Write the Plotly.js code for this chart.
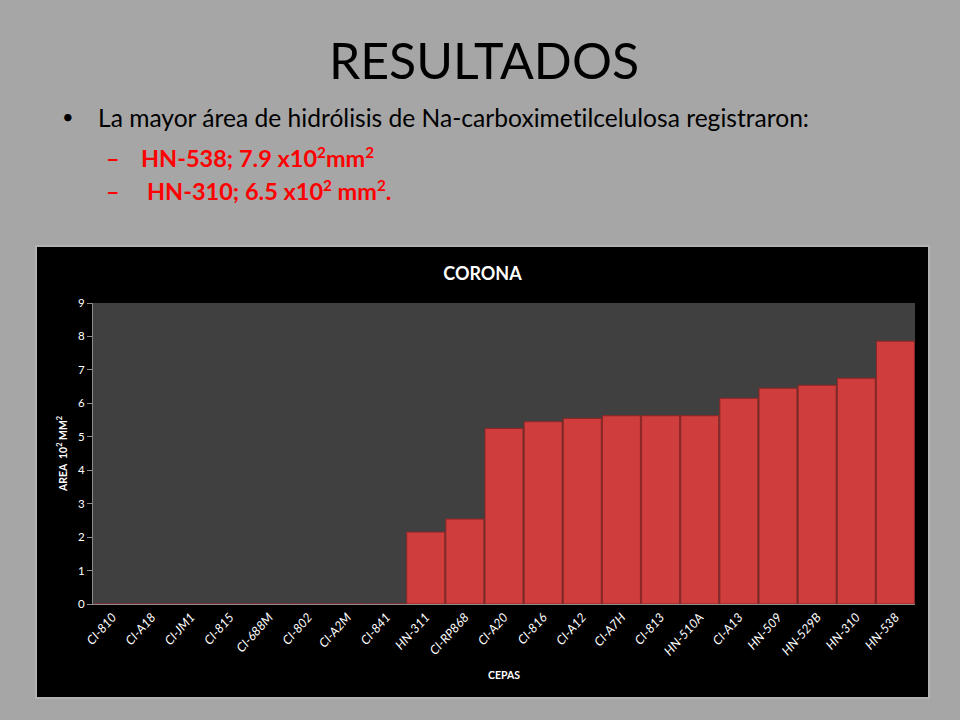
<!DOCTYPE html>
<html>
<head>
<meta charset="utf-8">
<script src="https://cdn.plot.ly/plotly-3.0.1.min.js"></script>
<style>
  html, body { margin: 0; padding: 0; }
  body { width: 960px; height: 720px; background: #a6a6a6; position: relative; overflow: hidden;
         font-family: Lato, "Open Sans", sans-serif; font-variant-ligatures: none; }
  .t { position: absolute; white-space: nowrap; }
  #title { left: 0; width: 968px; text-align: center; top: 30px; font-size: 50px; color: #000; }
  #b1 { left: 98px; top: 103px; font-size: 24.6px; color: #000; }
  #dot { left: 62px; top: 104px; font-size: 20px; }
  .red { color: #ff0000; font-weight: bold; font-size: 23.5px; }
  #d1 { left: 106px; top: 144px; }
  #l1 { left: 141px; top: 144px; }
  #d2 { left: 106px; top: 177px; }
  #l2 { left: 147px; top: 177px; }
  sup { font-size: 0.65em; line-height: 0; }
  #panel { position: absolute; left: 35px; top: 245px; width: 895px; height: 454px; background: #b2b2b2; }
  #chart { position: absolute; left: 37px; top: 247px; width: 891px; height: 450px; }
</style>
</head>
<body>
<div class="t" id="title">RESULTADOS</div>
<div class="t" id="dot">•</div>
<div class="t" id="b1">La mayor área de hidrólisis de Na-carboximetilcelulosa registraron:</div>
<div class="t red" id="d1">–</div>
<div class="t red" id="l1">HN-538; 7.9 x10<sup>2</sup>mm<sup>2</sup></div>
<div class="t red" id="d2">–</div>
<div class="t red" id="l2">HN-310; 6.5 x10<sup>2</sup> mm<sup>2</sup>.</div>
<div id="panel"></div>
<div id="chart"></div>
<script>
// cepas y área de hidrólisis (x10^2 mm^2)
let cepas = ['CI-810', 'CI-A18', 'CI-JM1', 'CI-815', 'CI-688M', 'CI-802', 'CI-A2M', 'CI-841',
             'HN-311', 'CI-RP868', 'CI-A20', 'CI-816', 'CI-A12', 'CI-A7H', 'CI-813', 'HN-510A',
             'CI-A13', 'HN-509', 'HN-529B', 'HN-310', 'HN-538'];
let area = [0, 0, 0, 0, 0, 0, 0, 0,
            2.15, 2.54, 5.25, 5.45, 5.55, 5.63, 5.63, 5.63,
            6.15, 6.45, 6.54, 6.75, 7.86];

let trace = {
    type: 'bar',
    x: cepas,
    y: area,
    marker: {
        color: '#cf3d3d',
        line: { color: '#8e2626', width: 1 }
    },
    hoverinfo: 'x+y'
};

let layout = {
    width: 891,
    height: 450,
    paper_bgcolor: '#000000',
    plot_bgcolor: '#404040',
    bargap: 0.03,
    showlegend: false,
    margin: { l: 56, r: 13, t: 56, b: 93 },
    title: {
        text: '<b>CORONA</b>',
        x: 0.5,
        y: 0.94,
        yanchor: 'middle',
        font: { family: 'Lato, sans-serif', size: 18, color: '#ffffff' }
    },
    xaxis: {
        type: 'category',
        tickangle: -48,
        tickfont: { family: 'Lato, sans-serif', size: 12.5, color: '#ffffff', style: 'italic' },
        showline: true,
        linecolor: '#8c8c8c',
        linewidth: 1,
        ticks: '',
        showgrid: false,
        title: {
            text: '<b>CEPAS</b>',
            font: { family: 'Lato, sans-serif', size: 10.5, color: '#ffffff' },
            standoff: 14
        }
    },
    yaxis: {
        range: [0, 9],
        dtick: 1,
        ticks: 'outside',
        ticklen: 5,
        tickcolor: '#8c8c8c',
        tickfont: { family: 'Lato, sans-serif', size: 11.5, color: '#ffffff' },
        showline: true,
        linecolor: '#8c8c8c',
        showgrid: false,
        zeroline: false,
        title: {
            text: '<b>AREA  10<sup>2</sup> MM<sup>2</sup></b>',
            font: { family: 'Lato, sans-serif', size: 10.5, color: '#ffffff' },
            standoff: 8
        }
    }
};

Plotly.newPlot('chart', [trace], layout, { displayModeBar: false, staticPlot: true });
</script>
</body>
</html>
